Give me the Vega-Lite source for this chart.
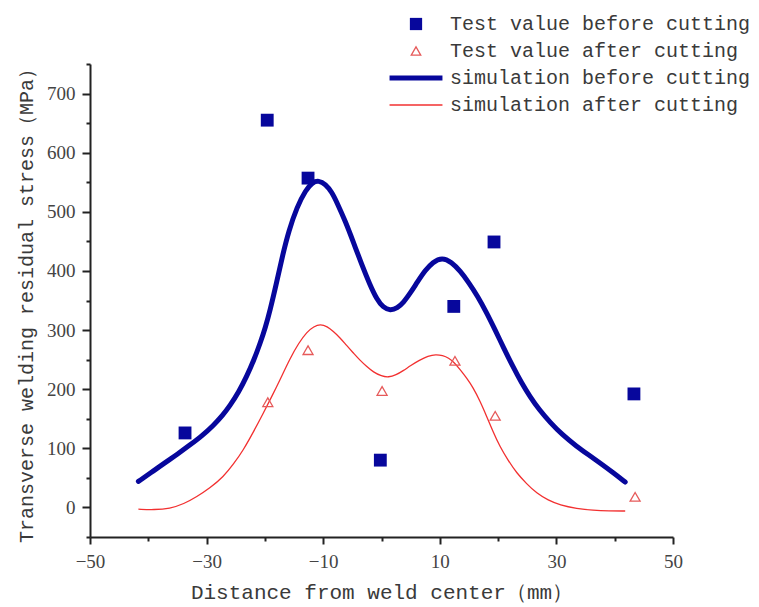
{
  "$schema": "https://vega.github.io/schema/vega-lite/v6.json",
  "width": 583,
  "height": 473,
  "autosize": {"type": "none"},
  "padding": {"left": 90, "top": 64, "right": 86, "bottom": 70},
  "background": "white",
  "config": {
    "view": {"stroke": null},
    "axis": {"grid": false}
  },
  "datasets": {
    "sim": [
      {"x": -41.7, "y": 44, "series": "simulation before cutting"},
      {"x": -39.5, "y": 59, "series": "simulation before cutting"},
      {"x": -37.4, "y": 74, "series": "simulation before cutting"},
      {"x": -35.0, "y": 90, "series": "simulation before cutting"},
      {"x": -32.8, "y": 106, "series": "simulation before cutting"},
      {"x": -30.8, "y": 121, "series": "simulation before cutting"},
      {"x": -28.8, "y": 139, "series": "simulation before cutting"},
      {"x": -27.3, "y": 155, "series": "simulation before cutting"},
      {"x": -26.0, "y": 172, "series": "simulation before cutting"},
      {"x": -24.5, "y": 195, "series": "simulation before cutting"},
      {"x": -23.1, "y": 222, "series": "simulation before cutting"},
      {"x": -21.9, "y": 249, "series": "simulation before cutting"},
      {"x": -20.8, "y": 278, "series": "simulation before cutting"},
      {"x": -19.9, "y": 305, "series": "simulation before cutting"},
      {"x": -19.1, "y": 334, "series": "simulation before cutting"},
      {"x": -18.0, "y": 380, "series": "simulation before cutting"},
      {"x": -17.0, "y": 425, "series": "simulation before cutting"},
      {"x": -15.9, "y": 468, "series": "simulation before cutting"},
      {"x": -14.5, "y": 508, "series": "simulation before cutting"},
      {"x": -13.0, "y": 537, "series": "simulation before cutting"},
      {"x": -11.8, "y": 550, "series": "simulation before cutting"},
      {"x": -10.8, "y": 553, "series": "simulation before cutting"},
      {"x": -9.6, "y": 547, "series": "simulation before cutting"},
      {"x": -8.5, "y": 533, "series": "simulation before cutting"},
      {"x": -7.7, "y": 517, "series": "simulation before cutting"},
      {"x": -6.2, "y": 484, "series": "simulation before cutting"},
      {"x": -4.8, "y": 448, "series": "simulation before cutting"},
      {"x": -3.4, "y": 411, "series": "simulation before cutting"},
      {"x": -2.0, "y": 377, "series": "simulation before cutting"},
      {"x": -0.8, "y": 352, "series": "simulation before cutting"},
      {"x": 0.3, "y": 338, "series": "simulation before cutting"},
      {"x": 1.5, "y": 333, "series": "simulation before cutting"},
      {"x": 2.7, "y": 337, "series": "simulation before cutting"},
      {"x": 3.8, "y": 347, "series": "simulation before cutting"},
      {"x": 4.9, "y": 362, "series": "simulation before cutting"},
      {"x": 6.2, "y": 382, "series": "simulation before cutting"},
      {"x": 7.5, "y": 401, "series": "simulation before cutting"},
      {"x": 8.8, "y": 415, "series": "simulation before cutting"},
      {"x": 10.4, "y": 423, "series": "simulation before cutting"},
      {"x": 12.0, "y": 415, "series": "simulation before cutting"},
      {"x": 13.5, "y": 400, "series": "simulation before cutting"},
      {"x": 15.0, "y": 380, "series": "simulation before cutting"},
      {"x": 16.5, "y": 357, "series": "simulation before cutting"},
      {"x": 18.0, "y": 330, "series": "simulation before cutting"},
      {"x": 19.5, "y": 300, "series": "simulation before cutting"},
      {"x": 21.0, "y": 269, "series": "simulation before cutting"},
      {"x": 22.5, "y": 239, "series": "simulation before cutting"},
      {"x": 24.0, "y": 211, "series": "simulation before cutting"},
      {"x": 25.5, "y": 187, "series": "simulation before cutting"},
      {"x": 27.0, "y": 166, "series": "simulation before cutting"},
      {"x": 29.0, "y": 143, "series": "simulation before cutting"},
      {"x": 31.0, "y": 123, "series": "simulation before cutting"},
      {"x": 33.5, "y": 103, "series": "simulation before cutting"},
      {"x": 35.5, "y": 89, "series": "simulation before cutting"},
      {"x": 37.5, "y": 75, "series": "simulation before cutting"},
      {"x": 39.7, "y": 59, "series": "simulation before cutting"},
      {"x": 41.8, "y": 43, "series": "simulation before cutting"},
      {"x": -41.7, "y": -3, "series": "simulation after cutting"},
      {"x": -39.0, "y": -4, "series": "simulation after cutting"},
      {"x": -36.3, "y": -2, "series": "simulation after cutting"},
      {"x": -33.9, "y": 6, "series": "simulation after cutting"},
      {"x": -31.7, "y": 18, "series": "simulation after cutting"},
      {"x": -29.4, "y": 33, "series": "simulation after cutting"},
      {"x": -27.1, "y": 52, "series": "simulation after cutting"},
      {"x": -25.4, "y": 73, "series": "simulation after cutting"},
      {"x": -23.7, "y": 97, "series": "simulation after cutting"},
      {"x": -22.0, "y": 127, "series": "simulation after cutting"},
      {"x": -20.3, "y": 159, "series": "simulation after cutting"},
      {"x": -18.8, "y": 188, "series": "simulation after cutting"},
      {"x": -17.4, "y": 216, "series": "simulation after cutting"},
      {"x": -15.7, "y": 252, "series": "simulation after cutting"},
      {"x": -14.2, "y": 278, "series": "simulation after cutting"},
      {"x": -12.8, "y": 297, "series": "simulation after cutting"},
      {"x": -11.6, "y": 306, "series": "simulation after cutting"},
      {"x": -10.5, "y": 310, "series": "simulation after cutting"},
      {"x": -9.3, "y": 306, "series": "simulation after cutting"},
      {"x": -8.3, "y": 298, "series": "simulation after cutting"},
      {"x": -7.1, "y": 287, "series": "simulation after cutting"},
      {"x": -6.0, "y": 274, "series": "simulation after cutting"},
      {"x": -4.8, "y": 261, "series": "simulation after cutting"},
      {"x": -3.7, "y": 249, "series": "simulation after cutting"},
      {"x": -2.5, "y": 238, "series": "simulation after cutting"},
      {"x": -1.4, "y": 229, "series": "simulation after cutting"},
      {"x": 0.0, "y": 222, "series": "simulation after cutting"},
      {"x": 1.2, "y": 220, "series": "simulation after cutting"},
      {"x": 2.5, "y": 224, "series": "simulation after cutting"},
      {"x": 3.7, "y": 231, "series": "simulation after cutting"},
      {"x": 5.0, "y": 240, "series": "simulation after cutting"},
      {"x": 6.5, "y": 249, "series": "simulation after cutting"},
      {"x": 8.0, "y": 256, "series": "simulation after cutting"},
      {"x": 9.3, "y": 259, "series": "simulation after cutting"},
      {"x": 10.5, "y": 257, "series": "simulation after cutting"},
      {"x": 11.5, "y": 253, "series": "simulation after cutting"},
      {"x": 12.5, "y": 245, "series": "simulation after cutting"},
      {"x": 13.5, "y": 233, "series": "simulation after cutting"},
      {"x": 14.6, "y": 219, "series": "simulation after cutting"},
      {"x": 15.7, "y": 203, "series": "simulation after cutting"},
      {"x": 16.9, "y": 180, "series": "simulation after cutting"},
      {"x": 18.0, "y": 155, "series": "simulation after cutting"},
      {"x": 19.1, "y": 129, "series": "simulation after cutting"},
      {"x": 20.3, "y": 103, "series": "simulation after cutting"},
      {"x": 21.7, "y": 80, "series": "simulation after cutting"},
      {"x": 23.2, "y": 58, "series": "simulation after cutting"},
      {"x": 24.9, "y": 40, "series": "simulation after cutting"},
      {"x": 26.6, "y": 24, "series": "simulation after cutting"},
      {"x": 28.6, "y": 12, "series": "simulation after cutting"},
      {"x": 30.6, "y": 4, "series": "simulation after cutting"},
      {"x": 33.5, "y": -2, "series": "simulation after cutting"},
      {"x": 36.3, "y": -5, "series": "simulation after cutting"},
      {"x": 39.0, "y": -6, "series": "simulation after cutting"},
      {"x": 41.8, "y": -6, "series": "simulation after cutting"}
    ],
    "test": [
      {"x": -33.7, "y": 126, "series": "Test value before cutting"},
      {"x": -19.6, "y": 655, "series": "Test value before cutting"},
      {"x": -12.6, "y": 557, "series": "Test value before cutting"},
      {"x": -0.2, "y": 80, "series": "Test value before cutting"},
      {"x": 12.4, "y": 340, "series": "Test value before cutting"},
      {"x": 19.3, "y": 449, "series": "Test value before cutting"},
      {"x": 43.3, "y": 192, "series": "Test value before cutting"},
      {"x": -19.5, "y": 178, "series": "Test value after cutting"},
      {"x": -12.6, "y": 266, "series": "Test value after cutting"},
      {"x": 0.1, "y": 197, "series": "Test value after cutting"},
      {"x": 12.6, "y": 248, "series": "Test value after cutting"},
      {"x": 19.5, "y": 155, "series": "Test value after cutting"},
      {"x": 43.5, "y": 18, "series": "Test value after cutting"}
    ]
  },
  "resolve": {"axis": {"x": "independent", "y": "independent"}},
  "layer": [
    {
      "data": {"name": "sim"},
      "transform": [{"filter": "datum.series === 'simulation after cutting'"}],
      "mark": {"type": "line", "interpolate": "basis", "strokeWidth": 1.3},
      "encoding": {
        "x": {
          "field": "x", "type": "quantitative",
          "scale": {"domain": [-50, 50], "nice": false, "zero": false},
          "axis": {
            "orient": "bottom",
            "values": [-50, -30, -10, 10, 30, 50],
            "title": "Distance from weld center（mm）",
            "titleFont": "Liberation Mono", "titleFontSize": 21, "titleFontWeight": "normal",
            "titleColor": "#3a3a3a", "titlePadding": 10,
            "labelFont": "Liberation Serif", "labelFontSize": 19, "labelColor": "#444444",
            "labelPadding": 8, "labelFlush": false,
            "domainColor": "#222222", "domainWidth": 2,
            "tickColor": "#222222", "tickWidth": 2, "tickSize": 7
          }
        },
        "y": {
          "field": "y", "type": "quantitative",
          "scale": {"domain": [-50, 750], "nice": false, "zero": false},
          "axis": {
            "orient": "left",
            "values": [0, 100, 200, 300, 400, 500, 600, 700],
            "title": "Transverse welding residual stress（MPa）",
            "titleFont": "Liberation Mono", "titleFontSize": 20, "titleFontWeight": "normal",
            "titleColor": "#3a3a3a", "titlePadding": 10,
            "labelFont": "Liberation Serif", "labelFontSize": 19, "labelColor": "#444444",
            "labelPadding": 7, "labelFlush": false,
            "domainColor": "#222222", "domainWidth": 2,
            "tickColor": "#222222", "tickWidth": 2, "tickSize": 8
          }
        },
        "color": {
          "field": "series", "type": "nominal",
          "scale": {
            "domain": ["Test value before cutting", "Test value after cutting", "simulation before cutting", "simulation after cutting"],
            "range": ["#07079c", "#e65a5a", "#07079c", "#f23030"]
          },
          "legend": {
            "title": null,
            "orient": "none",
            "legendX": 316,
            "legendY": -50,
            "padding": 0,
            "rowPadding": 7,
            "symbolSize": 2800,
            "symbolType": "stroke",
            "labelFont": "Liberation Mono",
            "labelFontSize": 20,
            "labelColor": "#3a3a3a",
            "labelOffset": 24,
            "labelLimit": 400,
            "encode": {
              "symbols": {
                "update": {
                  "shape": {"signal": "datum.value === 'Test value before cutting' ? 'square' : datum.value === 'Test value after cutting' ? 'triangle-up' : 'stroke'"},
                  "size": {"signal": "datum.value === 'Test value before cutting' ? 150 : datum.value === 'Test value after cutting' ? 90 : 2800"},
                  "fill": {"signal": "datum.value === 'Test value before cutting' ? '#07079c' : 'transparent'"},
                  "fillOpacity": {"signal": "datum.value === 'Test value before cutting' ? 1 : 0"},
                  "stroke": {"signal": "datum.value === 'Test value after cutting' ? '#e65a5a' : datum.value === 'simulation after cutting' ? '#f23030' : '#07079c'"},
                  "strokeWidth": {"signal": "datum.value === 'simulation before cutting' ? 5 : datum.value === 'Test value before cutting' ? 0 : 1.3"},
                  "opacity": {"value": 1}
                }
              }
            }
          }
        }
      }
    },
    {
      "data": {"name": "sim"},
      "transform": [{"filter": "datum.series === 'simulation before cutting'"}],
      "mark": {"type": "line", "interpolate": "basis", "strokeWidth": 5, "strokeCap": "round"},
      "encoding": {
        "x": {
          "field": "x", "type": "quantitative",
          "axis": {
            "orient": "bottom",
            "values": [-40, -20, 0, 20, 40],
            "labels": false, "title": null, "domain": false,
            "tickColor": "#222222", "tickWidth": 2, "tickSize": 4
          }
        },
        "y": {
          "field": "y", "type": "quantitative",
          "axis": {
            "orient": "left",
            "values": [-50, 50, 150, 250, 350, 450, 550, 650, 750],
            "labels": false, "title": null, "domain": false,
            "tickColor": "#222222", "tickWidth": 2, "tickSize": 4
          }
        },
        "color": {"field": "series", "type": "nominal"}
      }
    },
    {
      "data": {"name": "test"},
      "transform": [{"filter": "datum.series === 'Test value before cutting'"}],
      "mark": {"type": "point", "shape": "square", "filled": true, "size": 165, "opacity": 1},
      "encoding": {
        "x": {"field": "x", "type": "quantitative", "axis": null},
        "y": {"field": "y", "type": "quantitative", "axis": null},
        "color": {"field": "series", "type": "nominal"}
      }
    },
    {
      "data": {"name": "test"},
      "transform": [{"filter": "datum.series === 'Test value after cutting'"}],
      "mark": {"type": "point", "shape": "triangle-up", "filled": false, "size": 100, "strokeWidth": 1.3, "opacity": 1},
      "encoding": {
        "x": {"field": "x", "type": "quantitative", "axis": null},
        "y": {"field": "y", "type": "quantitative", "axis": null},
        "color": {"field": "series", "type": "nominal"}
      }
    }
  ]
}
